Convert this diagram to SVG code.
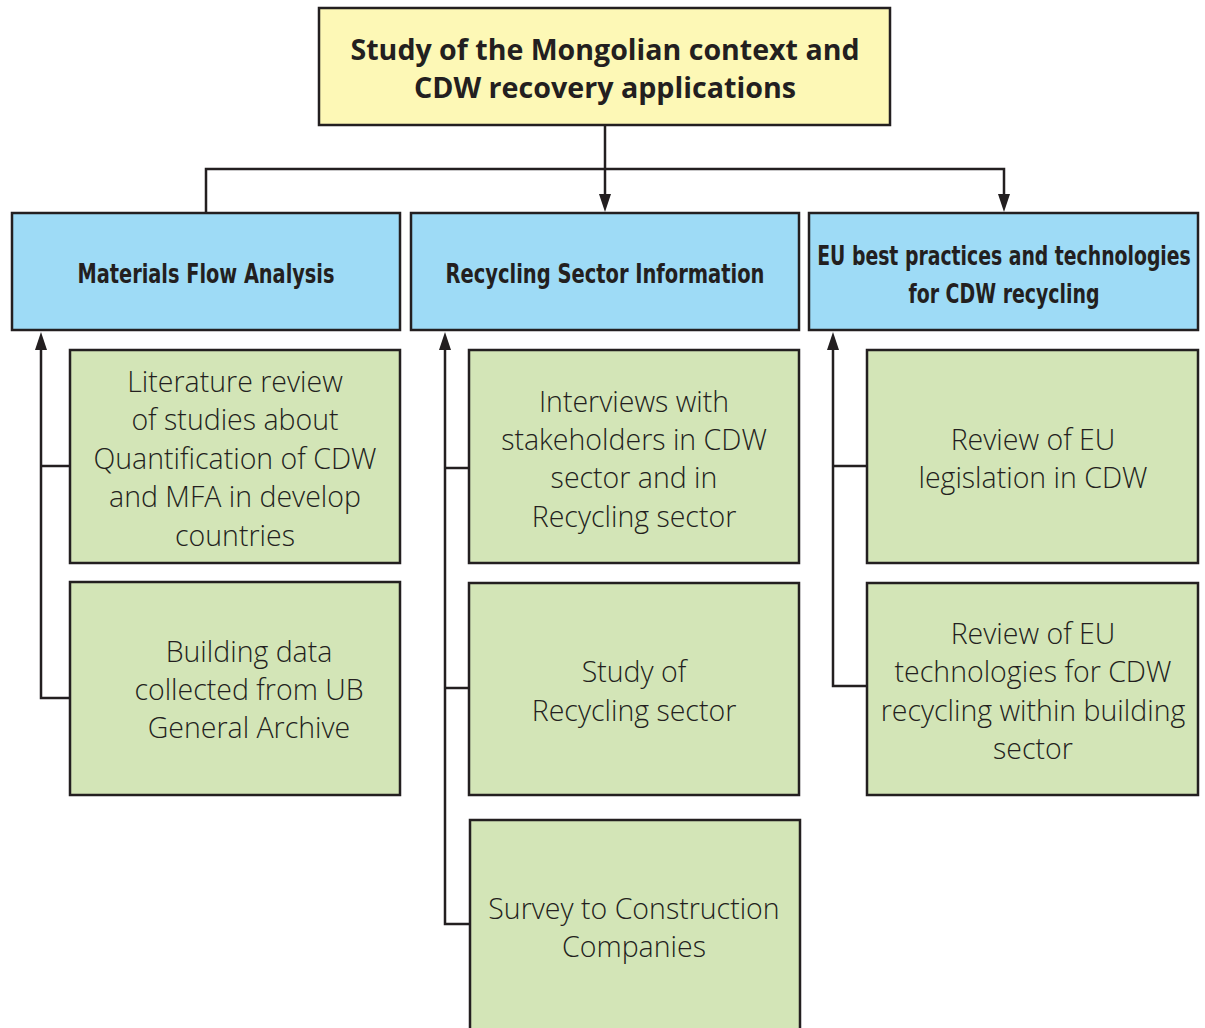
<svg xmlns="http://www.w3.org/2000/svg" width="1205" height="1028" viewBox="0 0 1205 1028">
<defs>
<style>
.box{stroke:#231f20;stroke-width:2.5}
.top{fill:#fdf8b6}
.blue{fill:#9edbf6}
.green{fill:#d3e5b7}
.t-title{font-family:"Open Sans","Liberation Sans",sans-serif;font-weight:700;font-size:28px;fill:#231f20;text-anchor:middle}
.t-blue{font-family:"DejaVu Sans Condensed","Open Sans","Liberation Sans",sans-serif;font-weight:700;font-size:26px;fill:#231f20;text-anchor:middle}
.t-green{font-family:"Open Sans","Liberation Sans",sans-serif;font-weight:300;font-size:28.5px;fill:#231f20;text-anchor:middle}
.conn{fill:none;stroke:#231f20;stroke-width:2.5}
</style>
</defs>

<g id="connectors">
<path class="conn" d="M605,126 V197" />
<path d="M599,194 L611,194 L605,212 Z" fill="#231f20"/>
<path class="conn" d="M206,212 V169 H1004 V197" />
<path d="M998,194 L1010,194 L1004,212 Z" fill="#231f20"/>
<path class="conn" d="M70,466 H41" />
<path class="conn" d="M70,698 H41 V346" />
<path d="M35,350 L47,350 L41,332 Z" fill="#231f20"/>
<path class="conn" d="M469,468 H445" />
<path class="conn" d="M469,688 H445" />
<path class="conn" d="M469,924 H445 V346" />
<path d="M439,350 L451,350 L445,332 Z" fill="#231f20"/>
<path class="conn" d="M867,466 H833" />
<path class="conn" d="M867,686 H833 V346" />
<path d="M827,350 L839,350 L833,332 Z" fill="#231f20"/>
</g>

<g id="n-top">
<rect class="box top" x="319" y="8" width="571" height="117"/>
<text class="t-title" x="605" y="60" textLength="509" lengthAdjust="spacingAndGlyphs">Study of the Mongolian context and</text>
<text class="t-title" x="605" y="98" textLength="382" lengthAdjust="spacingAndGlyphs">CDW recovery applications</text>
</g>

<g id="n-mfa">
<rect class="box blue" x="12" y="213" width="388" height="117"/>
<text class="t-blue" x="206" y="283" textLength="257" lengthAdjust="spacingAndGlyphs">Materials Flow Analysis</text>
</g>
<g id="n-rsi">
<rect class="box blue" x="411" y="213" width="388" height="117"/>
<text class="t-blue" x="605" y="283" textLength="319" lengthAdjust="spacingAndGlyphs">Recycling Sector Information</text>
</g>
<g id="n-eu">
<rect class="box blue" x="809" y="213" width="389" height="117"/>
<text class="t-blue" transform="translate(1004,265) scale(0.8,1)" x="0" y="0" textLength="467" lengthAdjust="spacingAndGlyphs">EU best practices and technologies</text>
<text class="t-blue" x="1004" y="303" textLength="191" lengthAdjust="spacingAndGlyphs">for CDW recycling</text>
</g>

<g id="n-lit">
<rect class="box green" x="70" y="350" width="330" height="213"/>
<text class="t-green" x="235" y="392">Literature review</text>
<text class="t-green" x="235" y="430">of studies about</text>
<text class="t-green" x="235" y="469">Quantification of CDW</text>
<text class="t-green" x="235" y="507">and MFA in develop</text>
<text class="t-green" x="235" y="546">countries</text>
</g>
<g id="n-build">
<rect class="box green" x="70" y="582" width="330" height="213"/>
<text class="t-green" x="249" y="662">Building data</text>
<text class="t-green" x="249" y="700">collected from UB</text>
<text class="t-green" x="249" y="738">General Archive</text>
</g>

<g id="n-int">
<rect class="box green" x="469" y="350" width="330" height="213"/>
<text class="t-green" x="634" y="412">Interviews with</text>
<text class="t-green" x="634" y="450">stakeholders in CDW</text>
<text class="t-green" x="634" y="488">sector and in</text>
<text class="t-green" x="634" y="527">Recycling sector</text>
</g>
<g id="n-study">
<rect class="box green" x="469" y="583" width="330" height="212"/>
<text class="t-green" x="634" y="682">Study of</text>
<text class="t-green" x="634" y="721">Recycling sector</text>
</g>
<g id="n-survey">
<rect class="box green" x="470" y="820" width="330" height="220"/>
<text class="t-green" x="634" y="919">Survey to Construction</text>
<text class="t-green" x="634" y="957">Companies</text>
</g>

<g id="n-leg">
<rect class="box green" x="867" y="350" width="331" height="213"/>
<text class="t-green" x="1033" y="450">Review of EU</text>
<text class="t-green" x="1033" y="488">legislation in CDW</text>
</g>
<g id="n-tech">
<rect class="box green" x="867" y="583" width="331" height="212"/>
<text class="t-green" x="1033" y="644">Review of EU</text>
<text class="t-green" x="1033" y="682">technologies for CDW</text>
<text class="t-green" x="1033" y="721">recycling within building</text>
<text class="t-green" x="1033" y="759">sector</text>
</g>
</svg>
